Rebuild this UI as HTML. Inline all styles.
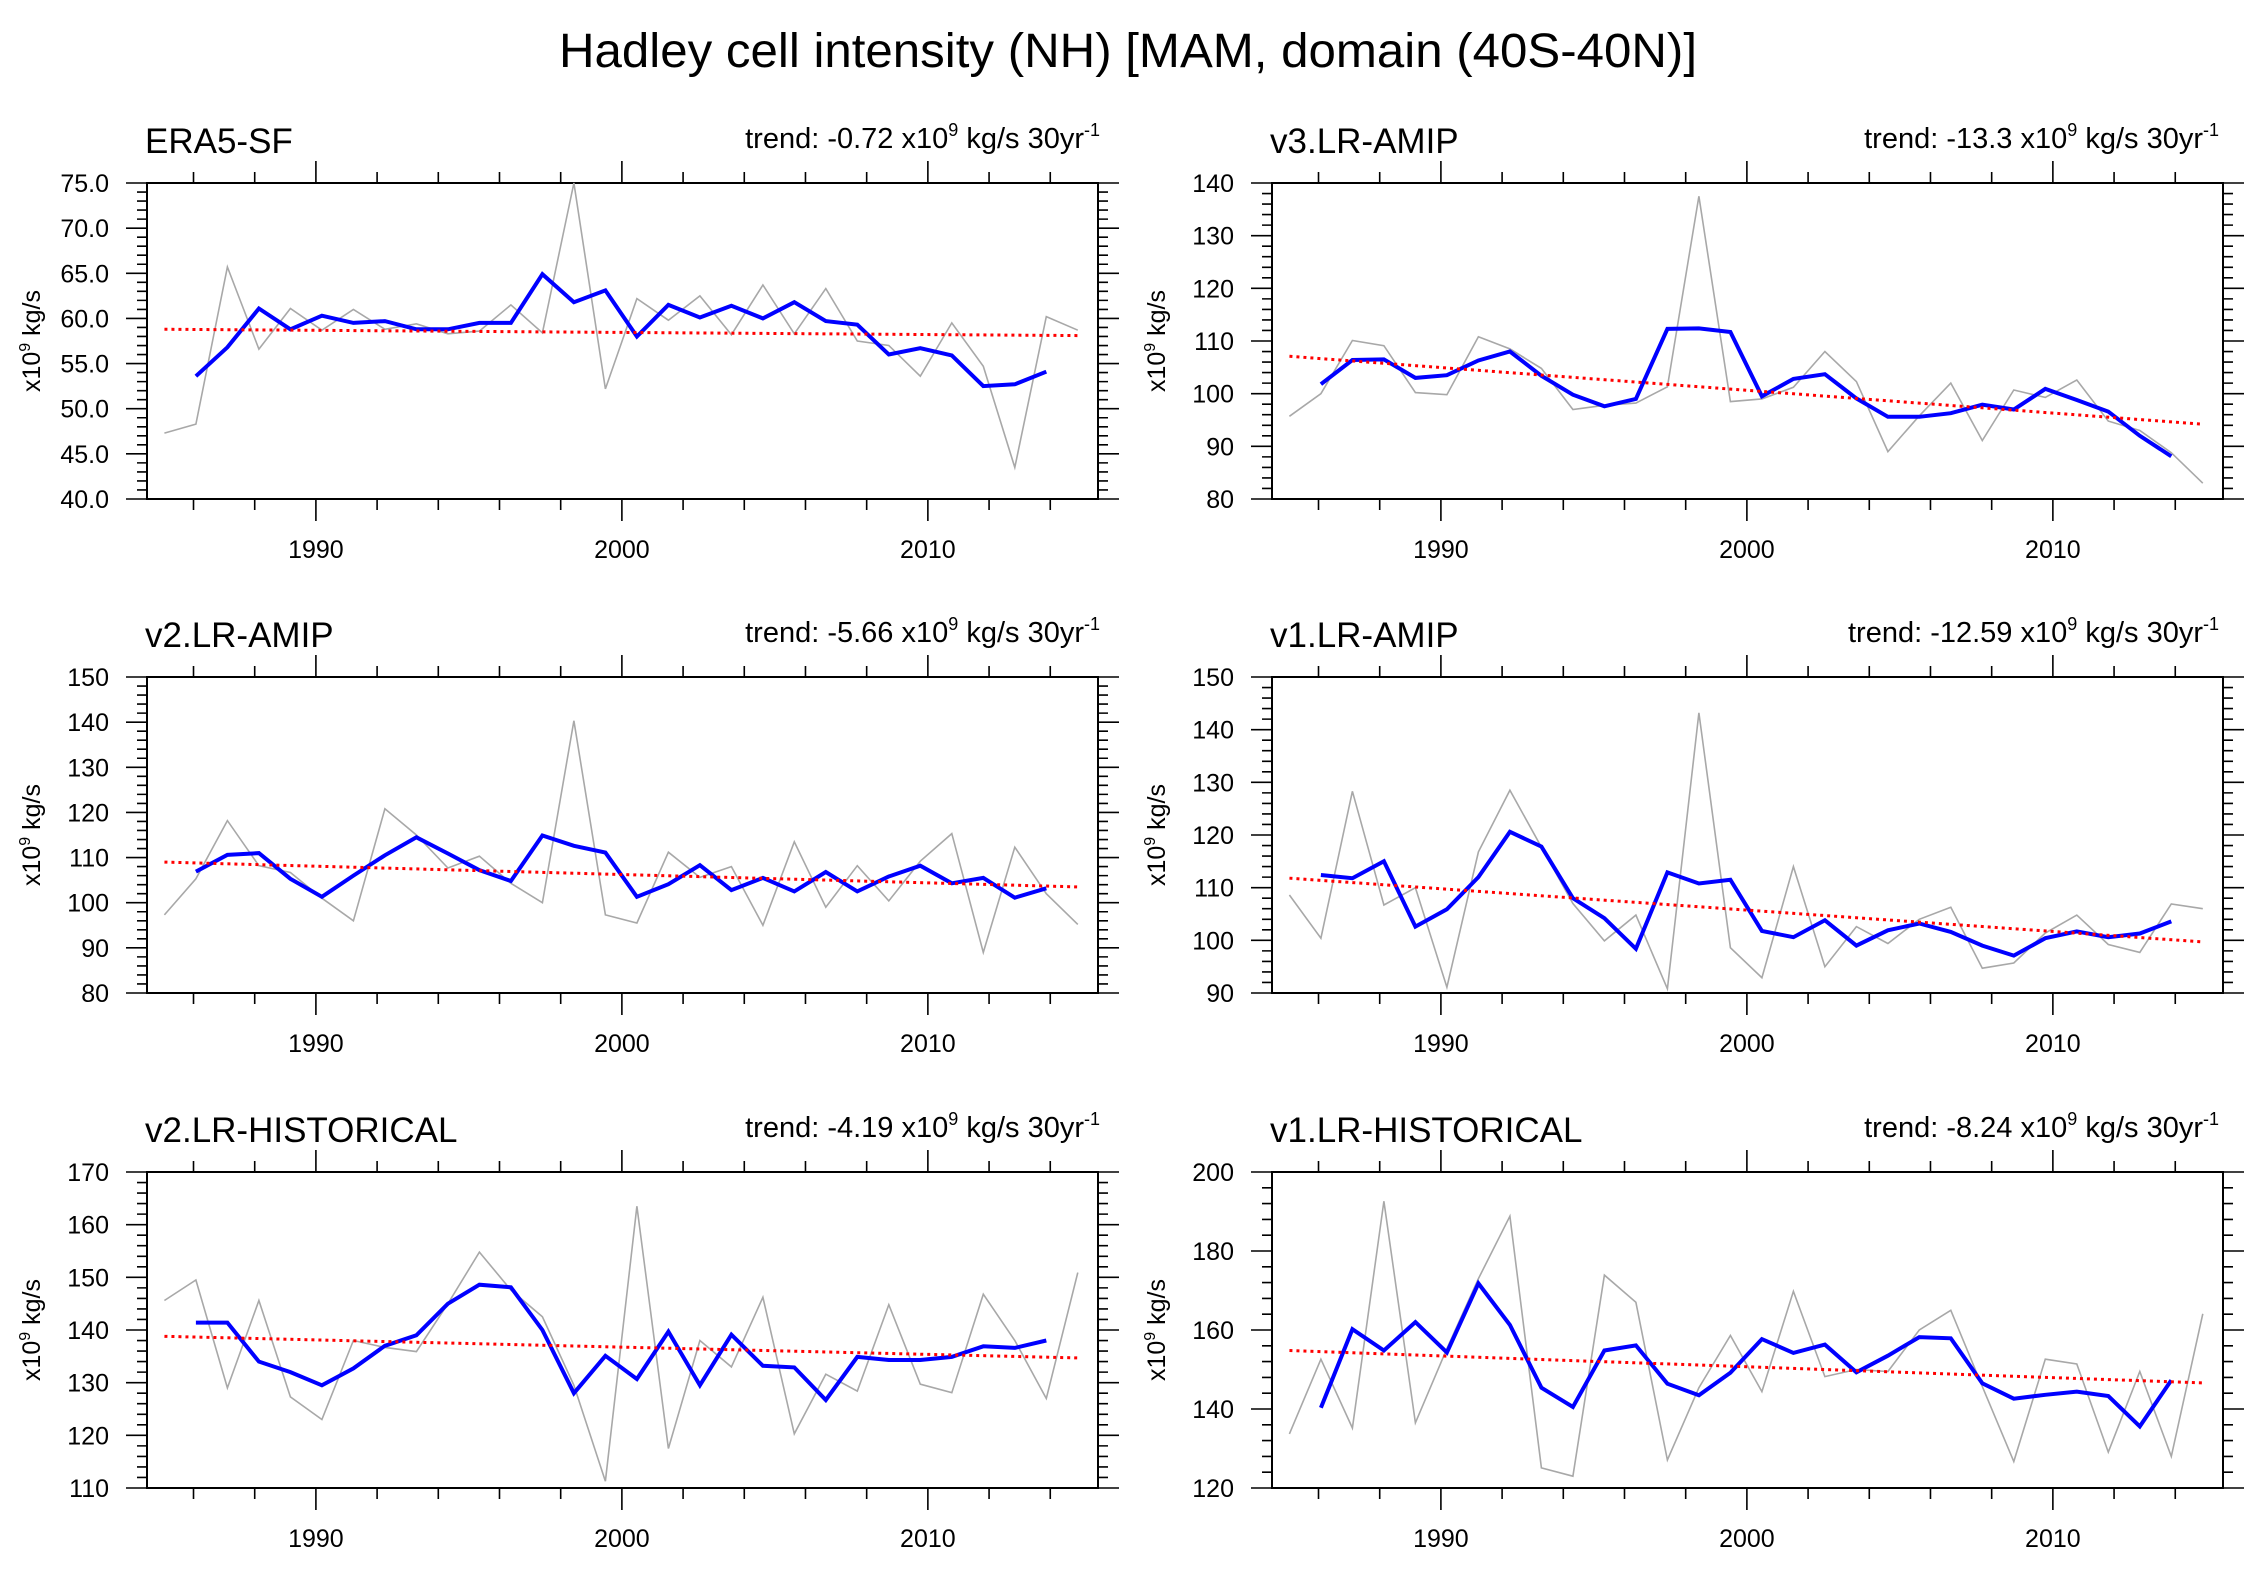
<!DOCTYPE html>
<html><head><meta charset="utf-8">
<style>
html,body{margin:0;padding:0;background:#fff;}
svg{display:block;font-family:"Liberation Sans",Arial,sans-serif;}
</style></head>
<body>
<svg id="chart" width="2259" height="1579" viewBox="0 0 2259 1579" xmlns="http://www.w3.org/2000/svg">
<rect width="2259" height="1579" fill="#fff"/>
<text x="1128" y="67" font-size="48" text-anchor="middle" textLength="1138" lengthAdjust="spacingAndGlyphs">Hadley cell intensity (NH) [MAM, domain (40S-40N)]</text>
</svg>
<script>
// ---- data ----
const panelNames = ["ERA5-SF","v3.LR-AMIP","v2.LR-AMIP","v1.LR-AMIP","v2.LR-HISTORICAL","v1.LR-HISTORICAL"];
const trendLabels = ["-0.72","-13.3","-5.66","-12.59","-4.19","-8.24"];
const xTickYears = [1990,2000,2010];
const yMin = [40,80,80,90,110,120];
const yMax = [75,140,150,150,170,200];
const yMajorStep = [5,10,10,10,10,20];
const yMinorStep = [1,2,2,2,2,4];
const yDecimals = [1,0,0,0,0,0];

const gray1 = [47.3,48.3,65.7,56.6,61.1,58.7,61.0,58.8,59.4,58.3,58.6,61.5,58.4,75.0,52.2,62.2,59.8,62.5,58.2,63.7,58.3,63.3,57.5,57.0,53.6,59.5,54.7,43.5,60.2,58.7];
const blue1 = [53.6,56.8,61.1,58.8,60.3,59.5,59.7,58.8,58.8,59.5,59.5,64.9,61.8,63.1,58.0,61.5,60.1,61.4,60.0,61.8,59.7,59.3,56.0,56.7,55.9,52.5,52.7,54.1];
const trend1 = [58.8,58.1];

const gray2 = [95.7,100.0,110.1,109.1,100.2,99.8,110.8,108.5,104.8,97.0,97.8,98.2,101.3,137.5,98.5,99.0,101.2,108.0,102.3,89.0,95.8,102.0,91.1,100.7,99.3,102.6,94.8,93.0,88.8,83.0];
const blue2 = [101.8,106.4,106.5,103.0,103.5,106.3,108.0,103.4,99.8,97.6,99.0,112.3,112.4,111.7,99.5,102.8,103.7,99.1,95.6,95.6,96.3,97.9,97.0,100.9,98.8,96.6,92.0,88.1];
const trend2 = [107.1,94.2];

const gray3 = [97.3,105.3,118.2,108.2,106.7,101.0,96.0,120.8,115.0,107.7,110.3,104.3,100.0,140.3,97.3,95.5,111.2,105.6,108.0,95.0,113.5,99.0,108.2,100.4,109.2,115.3,89.0,112.3,102.0,95.2];
const blue3 = [106.9,110.6,111.0,105.3,101.3,106.0,110.5,114.5,110.9,107.2,104.8,114.9,112.6,111.1,101.3,104.1,108.3,102.8,105.5,102.5,106.8,102.5,105.8,108.2,104.3,105.5,101.1,103.2];
const trend3 = [109.0,103.5];

const gray4 = [108.6,100.4,128.3,106.7,110.0,91.1,116.8,128.5,117.7,107.0,99.9,104.8,90.8,143.2,98.6,92.9,114.0,95.0,102.6,99.4,104.0,106.3,94.7,95.7,101.4,104.8,99.2,97.7,106.9,106.0];
const blue4 = [112.4,111.8,115.0,102.6,105.9,112.0,120.6,117.8,108.0,104.2,98.4,112.9,110.8,111.5,101.8,100.6,103.8,99.0,101.9,103.2,101.6,99.0,97.1,100.4,101.7,100.6,101.3,103.6];
const trend4 = [111.8,99.7];

const gray5 = [145.6,149.5,129.0,145.6,127.3,123.0,138.0,136.7,135.9,145.0,154.8,147.6,142.5,129.5,111.3,163.5,117.5,138.0,133.0,146.2,120.3,131.6,128.4,144.8,129.7,128.1,146.8,138.0,127.0,150.9];
const blue5 = [141.4,141.4,134.0,132.0,129.5,132.7,137.0,139.0,145.0,148.6,148.1,140.0,128.0,135.1,130.7,139.7,129.5,139.1,133.2,132.9,126.7,134.9,134.3,134.3,134.9,136.9,136.6,138.0];
const trend5 = [138.8,134.7];

const gray6 = [133.7,152.6,135.2,192.6,136.5,155.3,173.0,188.8,125.1,123.0,173.9,167.0,127.1,145.4,158.6,144.4,169.8,148.2,150.0,149.5,160.0,165.0,145.7,126.7,152.6,151.4,129.1,149.5,128.0,164.1];
const blue6 = [140.3,160.2,154.8,162.0,154.3,171.8,161.3,145.4,140.5,154.8,156.1,146.4,143.5,149.2,157.7,154.2,156.3,149.3,153.5,158.2,157.9,146.5,142.6,143.6,144.4,143.3,135.6,147.3];
const trend6 = [154.8,146.6];

const grays = [gray1,gray2,gray3,gray4,gray5,gray6];
const blues = [blue1,blue2,blue3,blue4,blue5,blue6];
const trends = [trend1,trend2,trend3,trend4,trend5,trend6];

// ---- layout ----
const NS = "http://www.w3.org/2000/svg";
const svg = document.getElementById("chart");
const colLeft = [147,1272];
const rowTop = [183,677,1172];
const PW = 951, PH = 316;
const YEAR0 = 1984.48, YEAR1 = 2015.56;
function pointYear(i){ return 1985.05 + i*29.85/29; }

function mk(tag, attrs, parent){
  const e = document.createElementNS(NS, tag);
  for (const k in attrs) e.setAttribute(k, attrs[k]);
  (parent||svg).appendChild(e);
  return e;
}

for (let p=0;p<6;p++){
  const L = colLeft[p%2], T = rowTop[Math.floor(p/2)], R = L+PW, B = T+PH;
  const g = mk("g",{});
  
  
  const xs = y => L + (y-YEAR0)/(YEAR1-YEAR0)*PW;
  const ys = v => B - (v-yMin[p])/(yMax[p]-yMin[p])*PH;

  // ticks
  const tk = mk("g",{stroke:"#000","stroke-width":1.6,fill:"none"},g);
  
  
  let d = "";
  for (let yr=1986; yr<=2014; yr+=2){
    const x = xs(yr), major = yr%10===0, len = major?22:11;
    d += `M${x},${T}V${T-len}M${x},${B}V${B+len}`;
  }
  for (let v=yMin[p]; v<=yMax[p]+1e-9; v+=yMinorStep[p]){
    const y = ys(v);
    const major = Math.abs(Math.round((v-yMin[p])/yMajorStep[p])*yMajorStep[p]-(v-yMin[p]))<1e-6;
    const len = major?21:10;
    d += `M${L},${y}H${L-len}M${R},${y}H${R+len}`;
  }
  mk("path",{d:d},tk);

  // frame
  const fr = mk("rect",{x:L,y:T,width:PW,height:PH,fill:"none",stroke:"#000","stroke-width":2},g);
  
  

  // y labels
  for (let v=yMin[p]; v<=yMax[p]+1e-9; v+=yMajorStep[p]){
    const t = mk("text",{x:L-38,y:ys(v)+9,"font-size":25,"text-anchor":"end"},g);
    
    
    t.textContent = v.toFixed(yDecimals[p]);
  }
  // x labels
  for (const yr of xTickYears){
    const t = mk("text",{x:xs(yr),y:B+59,"font-size":25,"text-anchor":"middle"},g);
    
    
    t.textContent = yr;
  }
  // y-axis title
  const ax = L-107, ay = (T+B)/2;
  const yt = mk("text",{x:ax,y:ay,"font-size":25,"text-anchor":"middle",transform:`rotate(-90 ${ax} ${ay})`},g);
  
  
  yt.innerHTML = 'x10<tspan font-size="16" dy="-10">9</tspan><tspan dy="10"> kg/s</tspan>';

  // panel title
  const pt = mk("text",{x:L-2,y:T-30,"font-size":35},g);
  
  
  pt.textContent = panelNames[p];
  // trend label
  const tr = mk("text",{x:R+(p%2?-4:2),y:T-35,"font-size":29,"text-anchor":"end"},g);
  
  
  tr.innerHTML = 'trend: ' + trendLabels[p] + ' x10<tspan font-size="18" dy="-12">9</tspan><tspan dy="12"> kg/s 30yr</tspan><tspan font-size="18" dy="-12">-1</tspan>';

  // gray raw series
  const gpts = grays[p].map((v,i)=>xs(pointYear(i)).toFixed(1)+","+ys(v).toFixed(1)).join(" ");
  const gl = mk("polyline",{points:gpts,fill:"none",stroke:"#a8a8a8","stroke-width":1.6},g);
  
  
  // blue smoothed series
  const bpts = blues[p].map((v,i)=>xs(pointYear(i+1)).toFixed(1)+","+ys(v).toFixed(1)).join(" ");
  const bl = mk("polyline",{points:bpts,fill:"none",stroke:"#0000ff","stroke-width":4,"stroke-linejoin":"miter"},g);
  
  
  // red trend
  const tl = mk("line",{x1:xs(pointYear(0)),y1:ys(trends[p][0]),x2:xs(pointYear(29)),y2:ys(trends[p][1]),stroke:"#ff0000","stroke-width":3,"stroke-dasharray":"3,4"},g);
  
  
}
</script>
</body></html>
